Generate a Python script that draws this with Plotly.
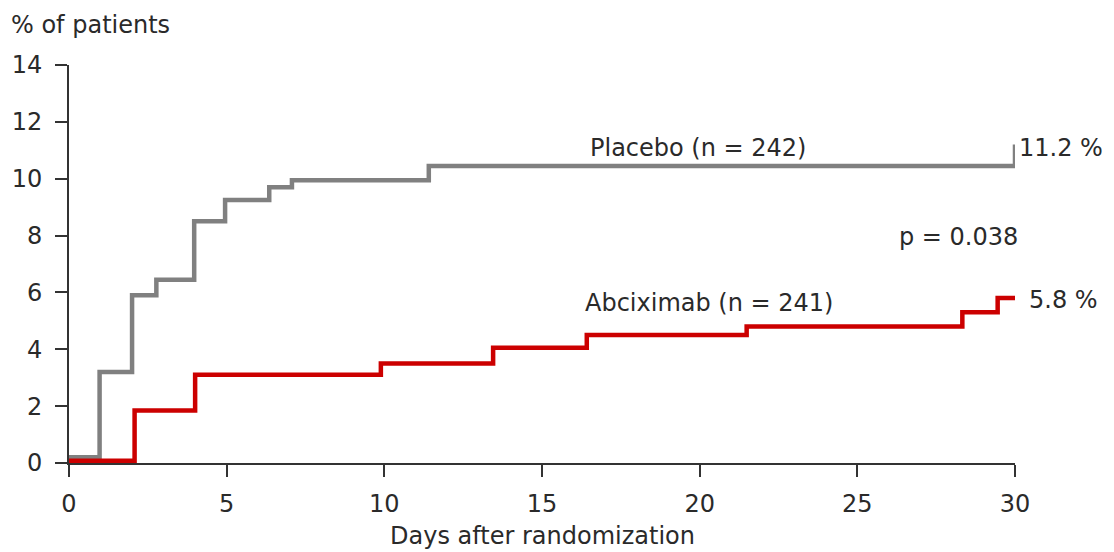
import plotly.graph_objects as go

# Data
placebo_days = [0, 0.97, 2.0, 2.77, 3.97, 4.95, 6.35, 7.07, 11.41, 30, 30]
placebo_pct = [0.2, 3.2, 5.9, 6.45, 8.5, 9.25, 9.7, 9.95, 10.45, 10.45, 11.2]
abcix_days = [0, 2.08, 4.0, 9.89, 13.45, 16.42, 21.49, 28.33, 29.45, 30]
abcix_pct = [0.08, 1.85, 3.1, 3.5, 4.05, 4.5, 4.8, 5.3, 5.8, 5.8]
x_ticks = [0, 5, 10, 15, 20, 25, 30]
y_ticks = [0, 2, 4, 6, 8, 10, 12, 14]

FONT = "DejaVu Sans"
TXT = "#2a2a2a"

fig = go.Figure()
fig.add_trace(go.Scatter(x=placebo_days, y=placebo_pct, mode="lines",
                         line=dict(shape="hv", color="#808080", width=4.5),
                         cliponaxis=False, showlegend=False))
fig.add_trace(go.Scatter(x=abcix_days, y=abcix_pct, mode="lines",
                         line=dict(shape="hv", color="#cc0000", width=4.5),
                         cliponaxis=False, showlegend=False))

axis_common = dict(showgrid=False, zeroline=False, showline=True, linecolor="#333333",
                   linewidth=2, ticks="outside", ticklen=12, tickwidth=2, tickcolor="#333333",
                   tickfont=dict(family=FONT, size=24, color=TXT), fixedrange=True)

fig.update_layout(
    width=1114, height=552,
    margin=dict(l=66, r=99, t=65, b=89),
    paper_bgcolor="white", plot_bgcolor="white",
    xaxis=dict(range=[0, 30], tickvals=x_ticks, ticklabelstandoff=6, **axis_common),
    yaxis=dict(range=[0, 14], tickvals=y_ticks, ticklabelstandoff=8, **axis_common),
    font=dict(family=FONT, color=TXT),
)

ann_font = dict(family=FONT, size=24, color=TXT)
fig.add_annotation(text="% of patients", xref="paper", yref="paper", x=-0.063, y=1.10,
                   xanchor="left", yanchor="middle", showarrow=False, font=ann_font)
fig.add_annotation(text="Days after randomization", xref="paper", yref="paper", x=0.5, y=-0.184,
                   xanchor="center", yanchor="middle", showarrow=False, font=ann_font)
fig.add_annotation(text="Placebo (n = 242)", x=19.95, y=11.07, xanchor="center", yanchor="middle",
                   showarrow=False, font=ann_font)
fig.add_annotation(text="Abciximab (n = 241)", x=20.3, y=5.62, xanchor="center", yanchor="middle",
                   showarrow=False, font=ann_font)
fig.add_annotation(text="p = 0.038", x=28.2, y=7.94, xanchor="center", yanchor="middle",
                   showarrow=False, font=ann_font)
fig.add_annotation(text="11.2 %", x=30, y=11.07, xanchor="left", yanchor="middle", xshift=2,
                   showarrow=False, font=ann_font)
fig.add_annotation(text="5.8 %", x=30, y=5.73, xanchor="left", yanchor="middle", xshift=12,
                   showarrow=False, font=ann_font)

fig.write_html("out.html")
